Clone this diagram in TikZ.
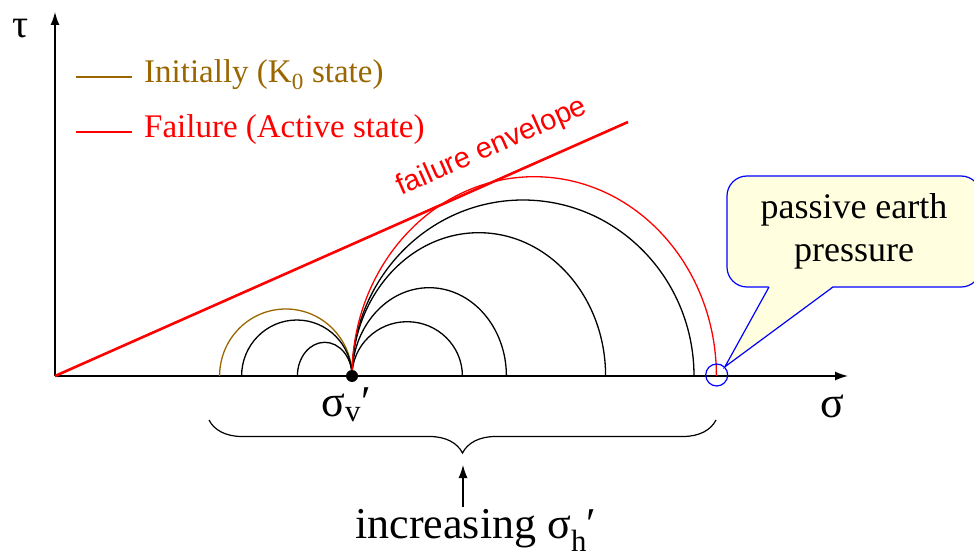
\documentclass[tikz,border=0pt]{standalone}
\usepackage{fontspec}
\setmainfont{Liberation Serif}
\newfontfamily\envfont{Liberation Sans}
\usetikzlibrary{arrows.meta,decorations.pathreplacing}
\definecolor{kbrown}{RGB}{153,102,0}
\definecolor{noteyellow}{RGB}{255,255,224}

\begin{document}
\begin{tikzpicture}[x=1pt,y=1pt,>={Latex[length=13pt,width=9pt]},
 axis/.style={->,line width=1.4pt},
 mohr/.style={line width=1.3pt},
 legline/.style={line width=1.3pt},
 lbl/.style={font=\fontsize{44}{48}\selectfont,inner sep=0pt},
 legtext/.style={anchor=base west,inner sep=0pt,font=\fontsize{33}{38}\selectfont}]
\useasboundingbox (-55,-181) rectangle (919,376);
\coordinate (O) at (0,0);
\coordinate (sv) at (297,0);
\coordinate (ytop) at (0,364);
\coordinate (xend) at (793,0);
% axes
\draw[axis] (O) -- (ytop);
\draw[axis] (O) -- (xend);
\node[anchor=base,inner sep=0pt,font=\fontsize{40}{44}\selectfont] (taulbl) at (-34,338) {τ};
\node[lbl,anchor=base] (siglbl) at (777,-41) {σ};

% legend
\draw[kbrown,legline] (21,299) -- (77,299);
\node[legtext,text=kbrown] (leg1) at (89,293) {Initially (K\textsubscript{0} state)};
\draw[red,legline] (21,244) -- (77,244);
\node[legtext,text=red] (leg2) at (89,238) {Failure (Active state)};

% failure envelope
\coordinate (envend) at (573,254);
\draw[red,line width=2.6pt] (O) -- node[sloped,pos=.785,above=17pt,inner sep=0pt,text=red,font=\envfont\fontsize{29}{33}\selectfont] (envlbl) {failure envelope} (envend);

% Mohr circles
\draw[kbrown,mohr] (sv) arc[start angle=0,end angle=180,x radius=66.2,y radius=67];
\draw[mohr] (sv) arc[start angle=0,end angle=180,x radius=55.2,y radius=56];
\draw[mohr] (sv) arc[start angle=0,end angle=180,x radius=27.3,y radius=33.7];
\foreach \a/\b in {55.2/54.3,77.2/88.3,126.8/143.3,171/176}
  \draw[mohr] (sv) arc[start angle=180,end angle=0,x radius=\a,y radius=\b];
\draw[red,mohr] (sv) arc[start angle=180,end angle=0,x radius=182.2,y radius=199.3];
\node[circle,fill,inner sep=0pt,minimum size=12pt] (svdot) at (sv) {};
\node[lbl,anchor=base] (svlbl) at (291,-40) {σ\textsubscript{v}′};

% passive pressure note
\node[circle,draw=blue,line width=1.2pt,minimum size=22pt,inner sep=0pt] (pp) at (661.7,1) {};
\node[draw=blue,line width=1.2pt,fill=noteyellow,rounded corners=20pt,minimum width=254pt,minimum height=111pt,align=center,font=\fontsize{36}{43}\selectfont] (note) at (799,144.5) {passive earth\\pressure};
\coordinate (pl) at (714,89);
\coordinate (pr) at (778,89);
\fill[noteyellow] ([yshift=1pt]pl) -- (pp.north east) -- ([yshift=1pt]pr) -- cycle;
\draw[blue,line width=1.2pt] (pl) -- (pp.north east) -- (pr);

% brace
\coordinate (bl) at (154,-44);
\coordinate (br) at (661,-44);
\draw[decorate,decoration={brace,mirror,amplitude=33pt},line width=1.2pt] (bl) -- (br);
\coordinate (arrtip) at (408,-89);
\node[anchor=base,inner sep=2pt,font=\fontsize{44}{48}\selectfont] (inc) at (421,-162.7) {increasing σ\textsubscript{h}′};
\draw[->,line width=1.2pt] (inc.north -| arrtip) -- (arrtip);
\end{tikzpicture}
\end{document}
